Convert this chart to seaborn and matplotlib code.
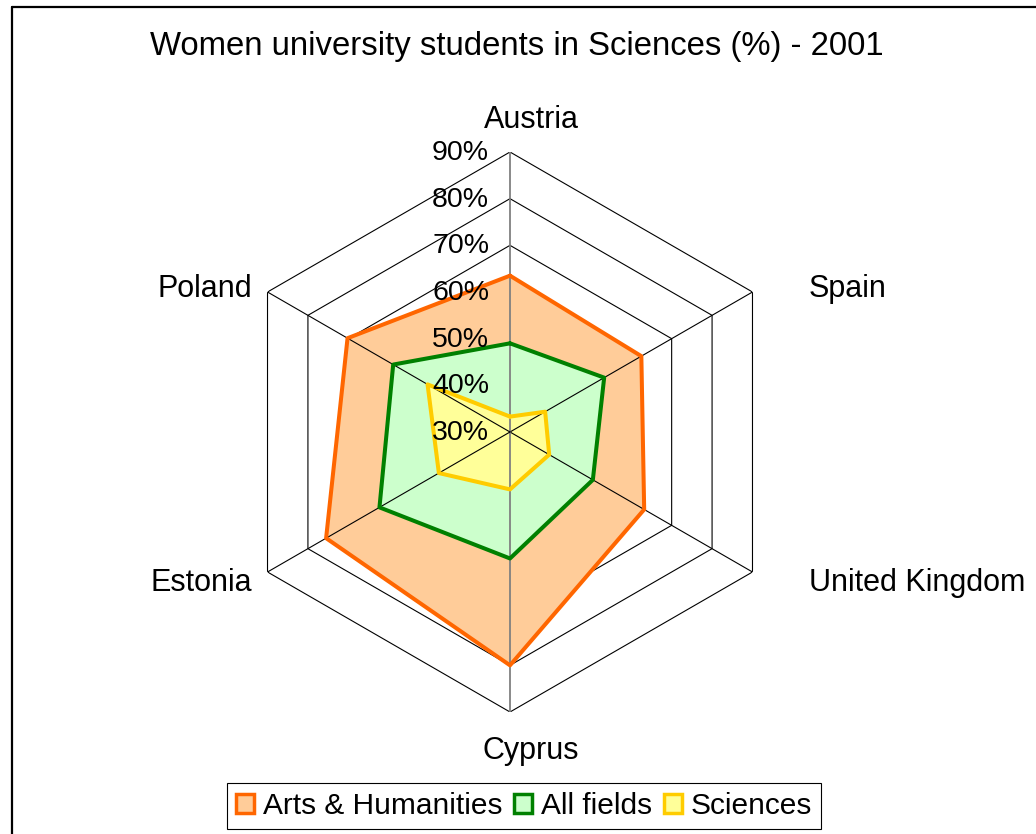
import numpy as np
import matplotlib
matplotlib.use("Agg")
import matplotlib.pyplot as plt
import seaborn as sns
from matplotlib.patches import Patch
from matplotlib.lines import Line2D

# ---- data ----
categories = ["Austria", "Spain", "United Kingdom", "Cyprus", "Estonia", "Poland"]
arts_humanities = [63.5, 62.5, 63.2, 80.0, 75.5, 70.2]
all_fields = [49.0, 53.3, 50.5, 57.1, 62.3, 58.9]
sciences = [33.3, 38.7, 39.7, 42.3, 47.6, 50.4]
series_names = ["Arts & Humanities", "All fields", "Sciences"]
tick_values = [30, 40, 50, 60, 70, 80, 90]
tick_labels = ["30%", "40%", "50%", "60%", "70%", "80%", "90%"]
title = "Women university students in Sciences (%) - 2001"

line_colors = ["#FF6600", "#008000", "#FFCC00"]
fill_colors = ["#FFCC99", "#CCFFCC", "#FFFF99"]

sns.set_theme(style="white")
plt.rcParams["font.family"] = ["Liberation Sans", "DejaVu Sans"]
plt.rcParams["text.color"] = "black"

W, H = 1036, 834
fig = plt.figure(figsize=(W / 100, H / 100), dpi=100)
fig.patch.set_facecolor("white")

cx, cy, R = 510, 432, 280
ax = fig.add_axes([(cx - R) / W, (H - cy - R) / H, 2 * R / W, 2 * R / H], projection="polar")
ax.set_theta_offset(np.pi / 2)
ax.set_theta_direction(-1)
ax.set_ylim(tick_values[0], tick_values[-1])
ax.grid(False)
ax.spines["polar"].set_visible(False)
ax.set_xticks([])
ax.set_yticks([])
ax.set_facecolor("none")

n = len(categories)
theta = np.arange(n) * 2 * np.pi / n
theta_c = np.append(theta, theta[0])

# hexagonal rings (behind fills)
for v in tick_values[1:]:
    ax.plot(theta_c, [v] * (n + 1), color="black", lw=0.8, zorder=1)

# series
for vals, name, lc, fc in zip([arts_humanities, all_fields, sciences], series_names, line_colors, fill_colors):
    vc = np.append(vals, vals[0])
    ax.fill(theta_c, vc, color=fc, zorder=2, lw=0)
    sns.lineplot(x=theta_c, y=vc, sort=False, ax=ax, color=lc, lw=2.9, zorder=4, estimator=None)

# spokes
for i, t in enumerate(theta):
    if i == 0 or i == 3:
        ax.plot([t, t], [tick_values[0], tick_values[-1]], color="#808080", lw=1.3, zorder=3)
    else:
        ax.plot([t, t], [tick_values[0], tick_values[-1]], color="black", lw=0.8, zorder=3)

# radial tick labels
for v, lab in zip(tick_values, tick_labels):
    ax.annotate(lab, xy=(0, v), xytext=(-21, -1), textcoords="offset pixels",
                ha="right", va="center", fontsize=20.5, zorder=6)

# category labels
offsets = [(21, 32, "center"), (56, 3, "left"), (57, -11, "left"),
           (21, -39, "center"), (-15, -11, "right"), (-15, 3, "right")]
for t, lab, (dx, dy, ha) in zip(theta, categories, offsets):
    ax.annotate(lab, xy=(t, tick_values[-1]), xytext=(dx, dy), textcoords="offset pixels",
                ha=ha, va="center", fontsize=22, annotation_clip=False)

ax.set_xlabel("")
ax.set_ylabel("")
if ax.get_legend():
    ax.get_legend().remove()

fig.text(517 / W, 1 - 47 / H, title, ha="center", va="center", fontsize=23.7)

handles = [Patch(facecolor=fc, edgecolor=lc, lw=2.5) for lc, fc in zip(line_colors, fill_colors)]
leg = fig.legend(handles, series_names, loc="center", bbox_to_anchor=(524 / W, 1 - 806 / H),
                 ncol=3, fontsize=21.5, frameon=True, fancybox=False, framealpha=1,
                 edgecolor="black", handlelength=0.6, handleheight=0.6, handletextpad=0.3,
                 columnspacing=0.4, borderpad=0.3, borderaxespad=0)
leg.get_frame().set_linewidth(0.8)

# chart area border (left and top visible)
fig.add_artist(Line2D([12 / W, 12 / W], [0, 1 - 7 / H], color="black", lw=1.6))
fig.add_artist(Line2D([12 / W, 1], [1 - 7 / H, 1 - 7 / H], color="black", lw=1.6))

fig.savefig("out.png", dpi=100, facecolor="white")
